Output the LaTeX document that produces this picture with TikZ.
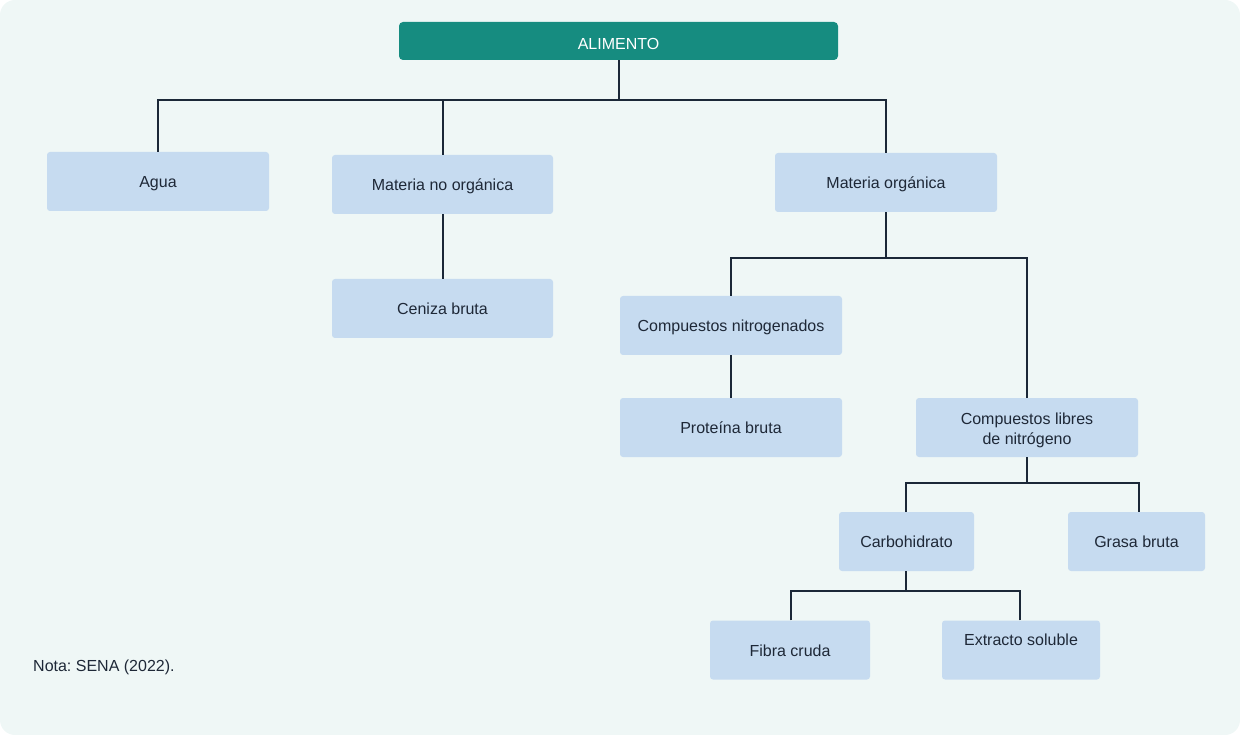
\documentclass[tikz,border=0pt]{standalone}
\usepackage{fontspec}
\setmainfont{Liberation Sans}
\frenchspacing
\definecolor{bgc}{RGB}{239,247,246}
\definecolor{teal}{RGB}{22,140,128}
\definecolor{boxc}{RGB}{198,219,240}
\definecolor{linec}{RGB}{27,40,56}
\definecolor{txt}{RGB}{30,40,55}
\begin{document}
\begin{tikzpicture}[x=1pt,y=-1pt,
  every node/.style={font=\fontsize{16}{20}\selectfont, text=txt},
  box/.style={fill=boxc, rounded corners=3pt, inner sep=0pt, align=center, minimum height=59pt},
  one/.style={text height=13pt, text depth=1pt},
  topbox/.style={fill=teal, rounded corners=4pt, inner sep=0pt, text=white, minimum height=38pt, minimum width=439pt, text height=17pt, text depth=0.4pt},
  conn/.style={draw=linec, line width=1.9pt}]
\useasboundingbox (0,0) rectangle (1240,735);
\fill[bgc, rounded corners=15pt] (0,0) rectangle (1240,735);

\node[topbox] (alim) at (618.5,41) {ALIMENTO};
\node[box, one, minimum width=222pt] (agua) at (158,181.5) {Agua};
\node[box, one, minimum width=221pt] (mno) at (442.5,184.5) {Materia no orgánica};
\node[box, one, minimum width=222pt] (mor) at (886,182.5) {Materia orgánica};
\node[box, one, minimum width=221pt] (cen) at (442.5,308.5) {Ceniza bruta};
\node[box, one, minimum width=222pt] (cn) at (731,325.5) {Compuestos nitrogenados};
\node[box, one, minimum width=222pt] (pb) at (731,427.5) {Proteína bruta};
\node[box, minimum width=222pt] (cl) at (1027,427.5) {\rule{0pt}{16.7pt}Compuestos libres\\de nitrógeno};
\node[box, one, minimum width=135pt] (car) at (906.5,541.5) {Carbohidrato};
\node[box, one, minimum width=137pt] (gra) at (1136.5,541.5) {Grasa bruta};
\node[box, one, minimum width=160pt] (fib) at (790,650) {Fibra cruda};
\node[box, minimum width=158pt, text height=13pt, text depth=21.6pt] (ext) at (1021,650) {Extracto soluble};
\node[anchor=base west, inner sep=0pt] (nota) at (33,671.5) {Nota: SENA (2022).};

% connectors
\draw[conn] ([xshift=0.5pt]alim.south) -- ++(0,40) coordinate (b1);
\draw[conn] (agua.north) |- (b1);
\draw[conn] ([xshift=0.5pt]mno.north) |- (b1);
\draw[conn] (mor.north) |- (b1);
\draw[conn] ([xshift=0.5pt]mno.south) -- ([xshift=0.5pt]cen.north);
\draw[conn] (mor.south) -- ++(0,46) coordinate (b2);
\draw[conn] (cn.north) |- (b2);
\draw[conn] (cl.north) |- (b2);
\draw[conn] (cn.south) -- (pb.north);
\draw[conn] (cl.south) -- ++(0,26) coordinate (b3);
\draw[conn] ([xshift=-0.5pt]car.north) |- (b3);
\draw[conn] ([xshift=2.5pt]gra.north) |- (b3);
\draw[conn] ([xshift=-0.5pt]car.south) -- ++(0,20) coordinate (b4);
\draw[conn] ([xshift=1pt]fib.north) |- (b4);
\draw[conn] ([xshift=-1pt]ext.north) |- (b4);
\end{tikzpicture}
\end{document}
